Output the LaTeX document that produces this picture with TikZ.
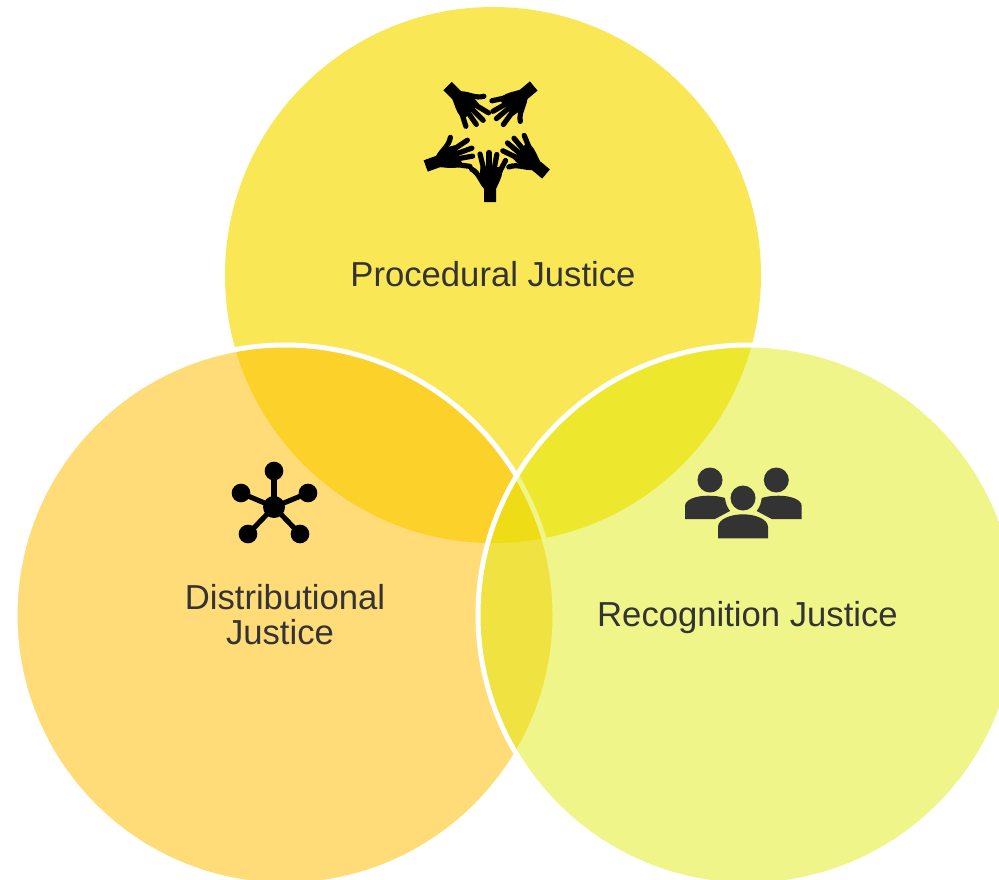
\documentclass[tikz,border=0pt]{standalone}
\usepackage{fontspec}
\setmainfont{Liberation Sans}
\definecolor{topc}{HTML}{FAE755}
\definecolor{leftc}{HTML}{FFBF05}
\definecolor{rightc}{HTML}{DFEA00}
\definecolor{ink}{HTML}{333333}
\tikzset{
  venn/.style={line width=3.75pt,draw=white},
  lbl/.style={text=ink,font=\fontsize{26}{26.25}\selectfont,align=center,inner sep=0pt},
  finger/.style={line width=3.9pt,line cap=round,line join=round,draw=black},
  link/.style={line width=3.8pt,draw=black}
}
\newcommand{\handicon}[4]{%
  \begin{scope}[shift={(#1,#2)},rotate=#3,scale=#4]
    \fill[black] (-6,0) -- (6,0) -- (6,-13) .. controls (8,-18) and (12,-24) .. (12.5,-31) -- (11,-35) -- (-9.5,-35) -- (-10,-30) .. controls (-10,-24) and (-6.5,-18) .. (-6,-13) -- cycle;
    \draw[finger] (9.5,-30) -- (15.5,-41.5);
    \draw[finger] (4,-32) -- (6.8,-47.5);
    \draw[finger] (-1,-32) -- (-1,-49.5);
    \draw[finger] (-6,-32) -- (-10,-48);
    \draw[finger] (-4,-15) .. controls (-9,-20) and (-11,-29) .. (-18.5,-33);
  \end{scope}}
\begin{document}
\begin{tikzpicture}[x=0.75pt,y=-0.75pt]
\useasboundingbox (0,0) rectangle (999,879);
\clip (0,0) rectangle (999,879);
\fill[white] (0,0) rectangle (999,879);
\fill[topc] (493,275) circle [radius=268];
\filldraw[venn,fill=leftc,fill opacity=0.54] (285,615) circle [radius=270];
\filldraw[venn,fill=rightc,fill opacity=0.46] (748,615) circle [radius=270];
\node[lbl] (proc) at (493,274) {Procedural Justice};
\node[lbl] (dist) at (285,614.5) {Distributional\\Justice\hspace*{7.5pt}};
\node[lbl] (reco) at (747.5,617.5) {Recognition Justice};
\handicon{490}{202}{0}{1}
\handicon{546}{174}{50}{1}
\handicon{533.7}{86}{130}{1}
\handicon{447.5}{86}{225}{1}
\handicon{425.7}{166}{290}{1}
% network
\node[circle,fill=black,inner sep=0pt,minimum size=16.5pt] (hub) at (274,507) {};
\foreach \n/\p in {a/{274,471},b/{241,493},c/{308,493},d/{248,534},e/{300,534}}{
  \node[circle,fill=black,inner sep=0pt,minimum size=14pt] (\n) at (\p) {};
  \draw[link] (hub.center) -- (\n.center);
}
% people
\fill[ink] (710,480) circle [radius=12.5];
\fill[ink] (776.3,480) circle [radius=12.5];
\fill[ink] (743,498) circle [radius=12.5];
\fill[ink] (718,538.3) -- (718,527) .. controls (718,519) and (731,514.3) .. (743,514.3) .. controls (755,514.3) and (768,519) .. (768,527) -- (768,538.3) -- cycle;
\fill[ink] (685,519) -- (685,506) .. controls (685,500) and (695,495.7) .. (708,495.7) .. controls (715,495.7) and (720,496.5) .. (725,498) .. controls (725.5,503) and (727,507) .. (730,511) -- (715,519) -- cycle;
\fill[ink] (801.7,519) -- (801.7,506) .. controls (801.7,500) and (791.7,495.7) .. (778.7,495.7) .. controls (771.7,495.7) and (766.7,496.5) .. (761.7,498) .. controls (761.2,503) and (759.7,507) .. (756.7,511) -- (771.7,519) -- cycle;
\end{tikzpicture}
\end{document}
